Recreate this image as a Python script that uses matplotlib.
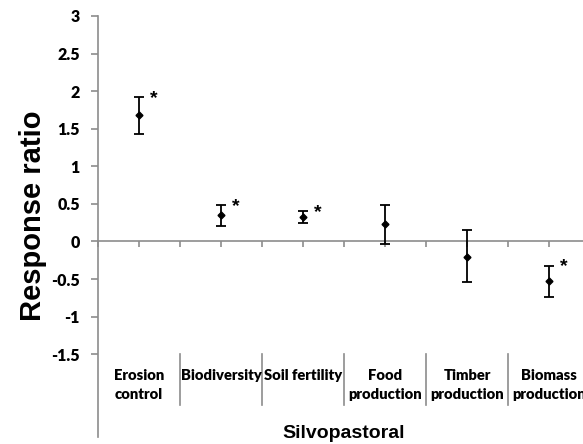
"""Response ratio of silvopastoral systems per ecosystem service."""
import numpy as np
from matplotlib import pyplot as plt

# Data
categories = ['Erosion\ncontrol', 'Biodiversity', 'Soil fertility',
              'Food\nproduction', 'Timber\nproduction', 'Biomass\nproduction']
means = [1.68, 0.35, 0.32, 0.23, -0.20, -0.53]
upper = [1.92, 0.48, 0.40, 0.48, 0.15, -0.32]
lower = [1.43, 0.20, 0.24, -0.03, -0.54, -0.74]
significant = [True, True, True, False, False, True]
y_ticks = [-1.5, -1, -0.5, 0, 0.5, 1, 1.5, 2, 2.5, 3]
group_label = 'Silvopastoral'

cat_font = 'Lato'
axis_font = 'Liberation Sans'
grey = '#8c8c8c'

fig = plt.figure(figsize=(5.83, 4.44), dpi=100)
ax = fig.add_axes([0.168, 0.016, 0.844, 0.948])

x = np.arange(len(categories))
means_arr = np.array(means)
yerr = np.vstack([means_arr - np.array(lower), np.array(upper) - means_arr])

ax.errorbar(x, means, yerr=yerr, fmt='D', color='black', markersize=3.5,
            elinewidth=1.3, capsize=3.5, capthick=1.3, zorder=3)

# Significance marks
for xi, top, sig in zip(x, upper, significant):
    if sig:
        ax.text(xi + 0.13, top - 0.02, '*', fontsize=14, fontweight='bold',
                ha='left', va='center', family=axis_font)

ax.set_xlim(-0.5, 5.5)
ax.set_ylim(-2.6, 3)

# Axes styling (Excel-like)
for side in ['top', 'right']:
    ax.spines[side].set_visible(False)
ax.spines['left'].set_color(grey)
ax.spines['left'].set_linewidth(1.2)
ax.spines['bottom'].set_position(('data', 0))
ax.spines['bottom'].set_color(grey)
ax.spines['bottom'].set_linewidth(1.2)

ax.set_yticks(y_ticks)
ax.set_yticklabels([f'{v:g}' for v in y_ticks], fontweight='heavy',
                   fontsize=11.5, family=cat_font)
ax.tick_params(axis='y', direction='out', length=5, width=1.2, color=grey,
               pad=8)
ax.set_xticks(np.arange(-0.5, 5.6, 0.5))
ax.set_xticklabels([])
ax.tick_params(axis='x', direction='out', length=4, width=1.2, color=grey)

# Category labels and separators below the plot
for xi, label in zip(x, categories):
    ax.text(xi, -1.7, label, ha='center', va='top', fontsize=10.6,
            fontweight='heavy', family=cat_font, linespacing=1.5)
for b in np.arange(0.5, 5.6, 1.0):
    ax.plot([b, b], [-1.5, -2.17], color=grey, linewidth=1.2, clip_on=False)

ax.text(2.5, -2.55, group_label, ha='center', va='center', fontsize=14,
        fontweight='bold', family=axis_font)

fig.text(0.057, 0.515, 'Response ratio', rotation=90, ha='center',
         va='center', fontsize=21, fontweight='bold', family=axis_font)

fig.savefig('out.png', dpi=100)
